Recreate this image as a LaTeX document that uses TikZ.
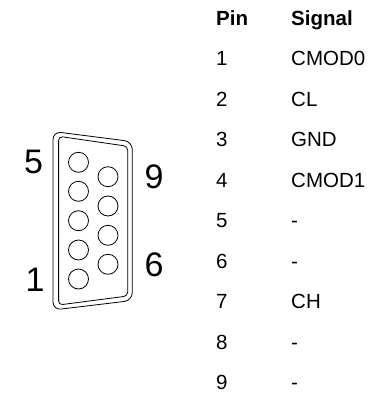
\documentclass[tikz,border=0pt]{standalone}
\usepackage{fontspec}
\setmainfont{Liberation Sans}
\begin{document}
\begin{tikzpicture}[x=1pt, y=-1pt,
    hole/.style={circle, draw, line width=0.8pt, minimum size=20pt, inner sep=0pt},
    num/.style={font=\fontsize{34}{34}\selectfont},
    cell/.style={anchor=base west, inner sep=0pt, font=\fontsize{20.5}{20.5}\selectfont},
    head/.style={cell, font=\fontsize{20.5}{20.5}\selectfont\bfseries}]
        \useasboundingbox (0,0) rectangle (374,393);
        % connector shell
        \draw[line width=0.8pt, rounded corners=8pt] (53,131.5) -- (132.3,141.6) -- (132.3,300.5) -- (53,310) -- cycle;
        \draw[line width=0.8pt, rounded corners=4pt] (58.6,136.3) -- (127.7,146.3) -- (127.7,296) -- (58.6,305) -- cycle;
        % holes
        \node[hole] (h5) at (78.5,162.3) {};
        \node[hole] (h4) at (78.5,191.3) {};
        \node[hole] (h3) at (78.5,220.7) {};
        \node[hole] (h2) at (78.5,250) {};
        \node[hole] (h1) at (78.5,279) {};
        \node[hole] (h9) at (108,176.7) {};
        \node[hole] (h8) at (108,206) {};
        \node[hole] (h7) at (108,235.3) {};
        \node[hole] (h6) at (108,264.3) {};
        \node[num] (n5) at (33.7,161.7) {5};
        \node[num] (n1) at (35,280) {1};
        \node[num] (n9) at (154.2,177) {9};
        \node[num] (n6) at (154.2,264.7) {6};
        % table
        \node[head] (pin) at (216,26) {Pin};
        \node[head] (signal) at (291,26) {Signal};
        \node[cell] (p1) at (216,65.7) {1};
        \node[cell] (s1) at (291,65.7) {CMOD0};
        \node[cell] (p2) at (216,106.2) {2};
        \node[cell] (s2) at (291,106.2) {CL};
        \node[cell] (p3) at (216,146.7) {3};
        \node[cell] (s3) at (291,146.7) {GND};
        \node[cell] (p4) at (216,187.2) {4};
        \node[cell] (s4) at (291,187.2) {CMOD1};
        \node[cell] (p5) at (216,227.7) {5};
        \node[cell] (s5) at (291,227.7) {-};
        \node[cell] (p6) at (216,268.2) {6};
        \node[cell] (s6) at (291,268.2) {-};
        \node[cell] (p7) at (216,308.7) {7};
        \node[cell] (s7) at (291,308.7) {CH};
        \node[cell] (p8) at (216,349.2) {8};
        \node[cell] (s8) at (291,349.2) {-};
        \node[cell] (p9) at (216,389.7) {9};
        \node[cell] (s9) at (291,389.7) {-};
    \end{tikzpicture}
\end{document}
